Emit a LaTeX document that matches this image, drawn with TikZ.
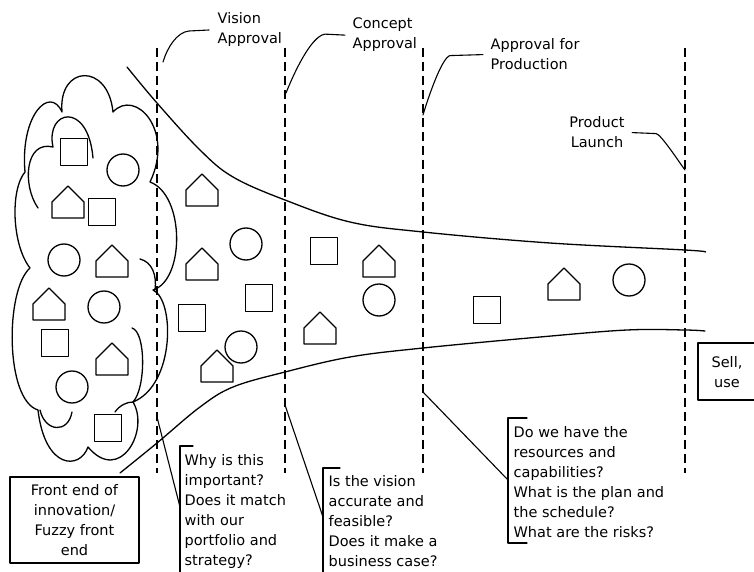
\documentclass[tikz,border=0pt]{standalone}
\usepackage{fontspec}
\setmainfont{DejaVu Sans}
\begin{document}
\begin{tikzpicture}[x=1pt,y=-1pt, line width=1.3pt, line join=round, line cap=round,
  dashln/.style={dash pattern=on 9pt off 5pt, line width=1.2pt, line cap=butt},
  txt/.style={font=\fontsize{14.5}{20}\selectfont, inner sep=0pt, align=left, anchor=base west},
  ctxt/.style={font=\fontsize{14.5}{20}\selectfont, inner sep=0pt, align=center},
  thin/.style={line width=1.1pt}]
\useasboundingbox (0,0) rectangle (754,572);
\fill[white] (0,0) rectangle (754,572);

% dashed gate lines
\foreach \n/\xx in {1/157,2/285,3/423,4/685}{
  \coordinate (d\n t) at (\xx,48);
  \coordinate (d\n b) at (\xx,473);
  \draw[dashln] (d\n t) -- (d\n b);
}

% funnel curves
\draw plot[smooth, tension=0.6] coordinates {(127,67) (157,103) (200,150) (233,177) (285,200) (350,222) (423,232) (550,243) (685,250) (705,252)};
\draw plot[smooth, tension=0.6] coordinates {(120,473) (157,443) (200,407) (233,387) (285,372) (350,357) (423,348) (540,337) (627,330) (685,330) (705,331)};

% cloud
\draw (25,172) .. controls (20,115) and (50,85) .. (62,112)
  .. controls (58,65) and (108,62) .. (113,112)
  .. controls (135,88) and (175,130) .. (150,182)
  .. controls (185,195) and (185,280) .. (153,290)
  .. controls (175,300) and (175,385) .. (133,402)
  .. controls (150,430) and (120,485) .. (88,447)
  .. controls (80,470) and (45,470) .. (38,410)
  .. controls (5,400) and (5,290) .. (30,268)
  .. controls (12,245) and (10,190) .. cycle;
\draw (38,208) .. controls (22,185) and (25,140) .. (53,147)
  .. controls (45,110) and (88,100) .. (93,158);
\draw (140,259) .. controls (152,262) and (157,275) .. (155,290);
\draw (132,328) .. controls (146,332) and (146,388) .. (133,402);
\draw (115,412) .. controls (120,405) and (127,402) .. (133,402);
\draw (40,410) .. controls (45,432) and (68,434) .. (72,412);

% squares
\foreach \x/\y in {74/152,102/212,55/343,108/428,259/298,192/318,324/251,487/310}
  \draw[shift={(\x,\y)}] (-13.5,-13.5) rectangle (13.5,13.5);
% circles
\foreach \x/\y in {123/170,64/260,104/307,72/387,246/244,241/347,379/300,629/280}
  \draw (\x,\y) circle[radius=16];
% houses
\foreach \x/\y in {68/202,112/261,49/304,112/359,202/190,202/264,217/366,379/261,320/328,564/284}
  \draw[shift={(\x,\y)}] (-16,16) -- (16,16) -- (16,0) -- (0,-16) -- (-16,0) -- cycle;

% gate labels (base = last line)
\node[txt] (vis) at (217,44) {Vision\\Approval};
\node[txt] (con) at (352,49) {Concept\\Approval};
\node[txt] (pro) at (490,70) {Approval for\\Production};
\node[ctxt, anchor=base] (pl) at (597,148) {Product\\Launch};

\coordinate (v1) at (163,62);
\coordinate (v2) at (286,93);
\coordinate (v3) at (423,115);
\coordinate (v4) at (685,170);
\draw[thin] ([xshift=-8pt]vis.west) -- ++(-20,1) .. controls +(-12,1) and +(4,-14) .. (v1);
\draw[thin] ([xshift=-7pt]con.west) -- ++(-20,-1) .. controls +(-14,2) and +(8,-20) .. (v2);
\draw[thin] ([xshift=-7pt]pro.west) -- ++(-33,1) .. controls +(-8,2) and +(6,-20) .. (v3);
\draw[thin] ([xshift=7pt]pl.east) -- ++(24,1) .. controls +(5,1) and +(-6,-8) .. (v4);

% front end box
\node[draw, ctxt, minimum width=129pt, minimum height=86pt] (fe) at (74.5,520) {Front end of\\innovation/\\Fuzzy front\\end};

% sell box
\node[ctxt, anchor=base] (sell) at (727,387) {Sell,\\use};
\draw (754,343) -- (698,343) -- (698,400) -- (754,400);

% callouts (base = last line)
\node[txt] (q1) at (184,565) {Why is this\\important?\\Does it match\\with our\\portfolio and\\strategy?};
\node[txt] (q2) at (328,566) {Is the vision\\accurate and\\feasible?\\Does it make a\\business case?};
\node[txt] (q3) at (513,537) {Do we have the\\resources and\\capabilities?\\What is the plan and\\the schedule?\\What are the risks?};

\draw (193,446) -- (180,446) -- (180,574);
\draw (340,468) -- (323,468) -- (323,574);
\draw (527,418) -- (508,418) -- (508,543) -- (527,543);

\coordinate (c1a) at (157,417); \coordinate (c1b) at (180,507);
\coordinate (c2a) at (285,405); \coordinate (c2b) at (323,517);
\coordinate (c3a) at (423,392); \coordinate (c3b) at (508,480);
\draw[thin] (c1a) -- (c1b);
\draw[thin] (c2a) -- (c2b);
\draw[thin] (c3a) -- (c3b);
\end{tikzpicture}
\end{document}
